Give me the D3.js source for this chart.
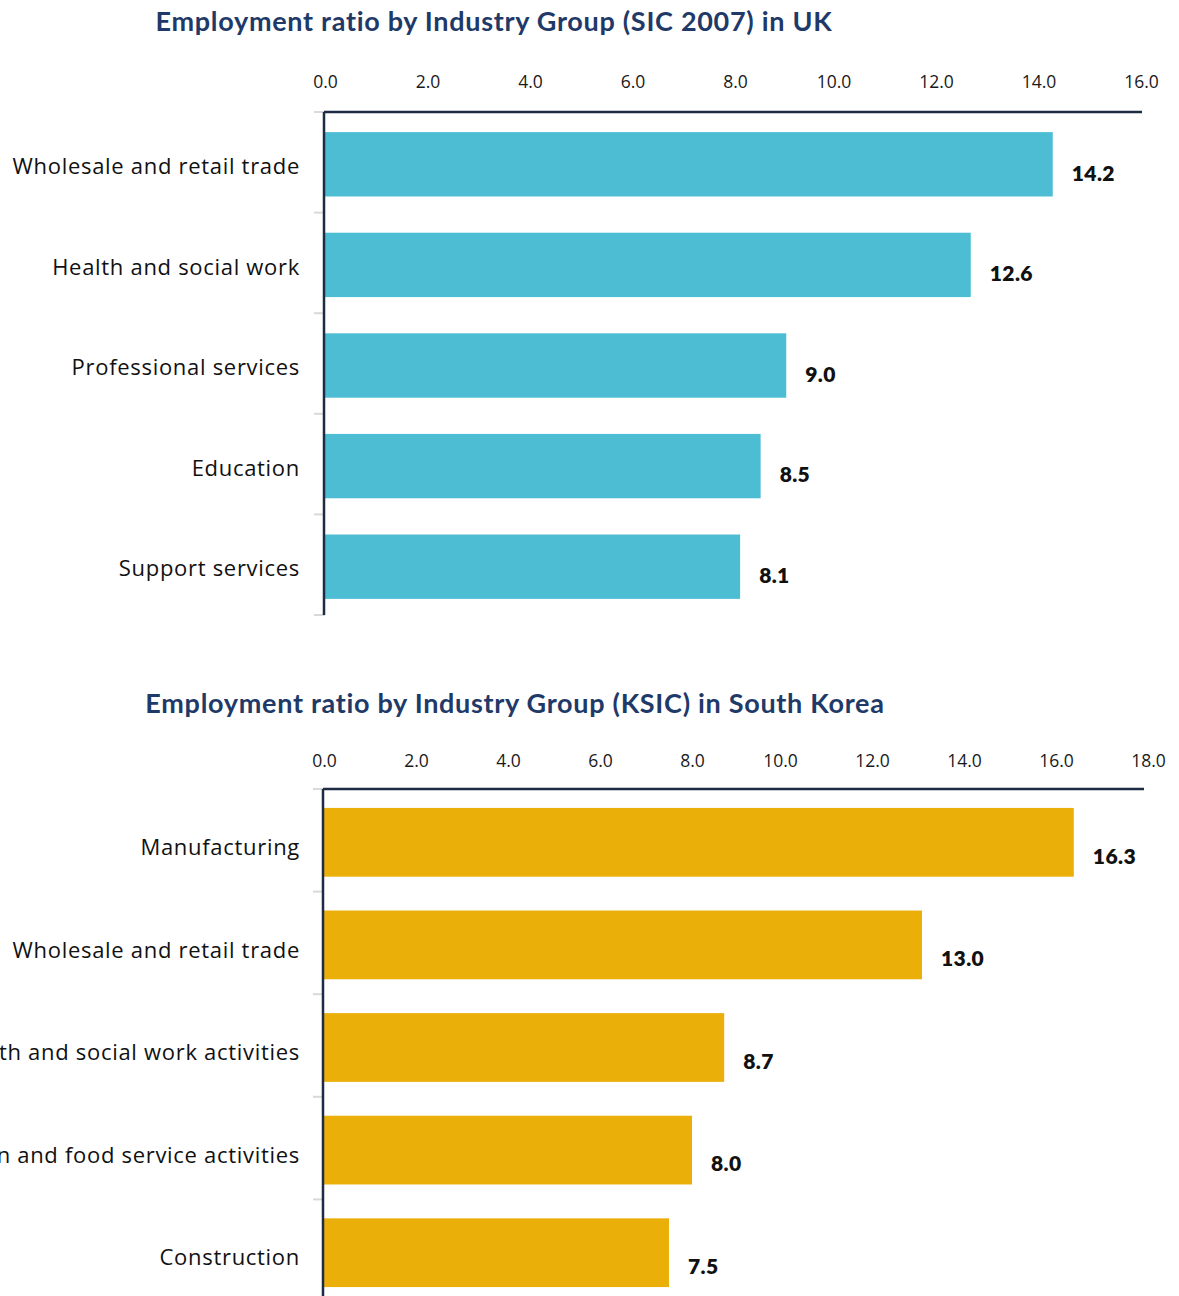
<!DOCTYPE html>
<html>
<head>
<meta charset="utf-8">
<script src="https://cdn.jsdelivr.net/npm/d3@7"></script>
<style>
  body { margin: 0; background: #ffffff; }
  svg { display: block; }
</style>
</head>
<body>
<svg id="chart" width="1179" height="1296"></svg>
<script>
// UK employment ratio by industry group (SIC 2007)
const ukTitle = "Employment ratio by Industry Group (SIC 2007) in UK";
const ukCategories = ["Wholesale and retail trade", "Health and social work", "Professional services", "Education", "Support services"];
const ukValues = [14.2, 12.6, 9.0, 8.5, 8.1];
const ukTicks = [0, 2, 4, 6, 8, 10, 12, 14, 16];

// South Korea employment ratio by industry group (KSIC)
const krTitle = "Employment ratio by Industry Group (KSIC) in South Korea";
const krCategories = ["Manufacturing", "Wholesale and retail trade", "Health and social work activities", "Accommodation and food service activities", "Construction"];
const krValues = [16.3, 13.0, 8.7, 8.0, 7.5];
const krTicks = [0, 2, 4, 6, 8, 10, 12, 14, 16, 18];

const svg = d3.select("#chart");
const navy = "#1f3a68";
const axisColor = "#1e2b45";

function drawChart(opts) {
  const g = svg.append("g");

  g.append("text")
    .attr("x", opts.titleX)
    .attr("y", opts.titleY)
    .attr("text-anchor", "middle")
    .attr("font-family", "Lato, 'Noto Sans', sans-serif")
    .attr("font-weight", 700)
    .attr("font-size", 27)
    .attr("letter-spacing", 0.7)
    .attr("fill", navy)
    .text(opts.title);

  const x = d3.scaleLinear()
    .domain([0, opts.max])
    .range([opts.left, opts.right]);

  const y = d3.scaleBand()
    .domain(opts.categories)
    .range([opts.top, opts.bottom])
    .paddingInner(opts.pad)
    .paddingOuter(opts.pad / 2);

  // value ticks above the plot
  const xAxis = g.append("g")
    .attr("transform", `translate(0,${opts.top})`)
    .call(d3.axisTop(x).tickValues(opts.ticks).tickFormat(d3.format(".1f")).tickSize(0).tickPadding(opts.tickPad));
  xAxis.select(".domain").remove();
  xAxis.selectAll("text")
    .attr("font-family", "'Open Sans', Lato, sans-serif")
    .attr("font-size", 17.5)
    .attr("fill", "#1a1a1a")
    .attr("dx", d => d >= 10 ? -4 : 0);

  // category boundaries as short gray ticks
  const bounds = d3.range(opts.categories.length + 1)
    .map(i => opts.top + i * y.step());
  g.selectAll("line.cat-tick")
    .data(bounds)
    .join("line")
    .attr("class", "cat-tick")
    .attr("x1", opts.left - 11)
    .attr("x2", opts.left)
    .attr("y1", d => d)
    .attr("y2", d => d)
    .attr("stroke", "#d9d9d9")
    .attr("stroke-width", 2);

  // bars
  g.selectAll("rect.bar")
    .data(opts.values)
    .join("rect")
    .attr("class", "bar")
    .attr("x", x(0))
    .attr("y", (d, i) => y(opts.categories[i]) + opts.barShift)
    .attr("width", d => x(d) - x(0))
    .attr("height", y.bandwidth())
    .attr("fill", opts.color);

  // axis lines
  g.append("line")
    .attr("x1", opts.left - 1).attr("x2", opts.axisEnd)
    .attr("y1", opts.top).attr("y2", opts.top)
    .attr("stroke", axisColor).attr("stroke-width", 2.5);
  g.append("line")
    .attr("x1", opts.left - 1).attr("x2", opts.left - 1)
    .attr("y1", opts.top).attr("y2", opts.axisBottom)
    .attr("stroke", axisColor).attr("stroke-width", 2.5);

  // category labels
  g.selectAll("text.cat")
    .data(opts.categories)
    .join("text")
    .attr("class", "cat")
    .attr("x", 300)
    .attr("y", d => y(d) + y.bandwidth() / 2 + opts.catOffset)
    .attr("dy", "0.35em")
    .attr("text-anchor", "end")
    .attr("font-family", "'Open Sans', Lato, sans-serif")
    .attr("font-size", 22)
    .attr("letter-spacing", 0.7)
    .attr("fill", "#111")
    .text(d => d);

  // value labels
  g.selectAll("text.val")
    .data(opts.values)
    .join("text")
    .attr("class", "val")
    .attr("x", d => x(d) + 19)
    .attr("y", (d, i) => y(opts.categories[i]) + y.bandwidth() / 2 + opts.valOffset)
    .attr("dy", "0.35em")
    .attr("font-family", "Lato, 'Noto Sans', sans-serif")
    .attr("font-weight", 800)
    .attr("font-size", 21)
    .attr("letter-spacing", 0.4)
    .attr("fill", "#111")
    .text(d => d3.format(".1f")(d));
}

drawChart({
  title: ukTitle, titleX: 494, titleY: 31,
  categories: ukCategories, values: ukValues, ticks: ukTicks,
  max: 16, left: 325, right: 1145, axisEnd: 1142,
  top: 112, bottom: 615, axisBottom: 615, pad: 0.36, tickPad: 24,
  barShift: 2, catOffset: 4, valOffset: 11, color: "#4dbdd4"
});

drawChart({
  title: krTitle, titleX: 515, titleY: 713,
  categories: krCategories, values: krValues, ticks: krTicks,
  max: 18, left: 324, right: 1152, axisEnd: 1144,
  top: 789, bottom: 1302, axisBottom: 1296, pad: 0.33, tickPad: 22,
  barShift: 2, catOffset: 7, valOffset: 16, color: "#ebaf0a"
});
</script>
</body>
</html>
